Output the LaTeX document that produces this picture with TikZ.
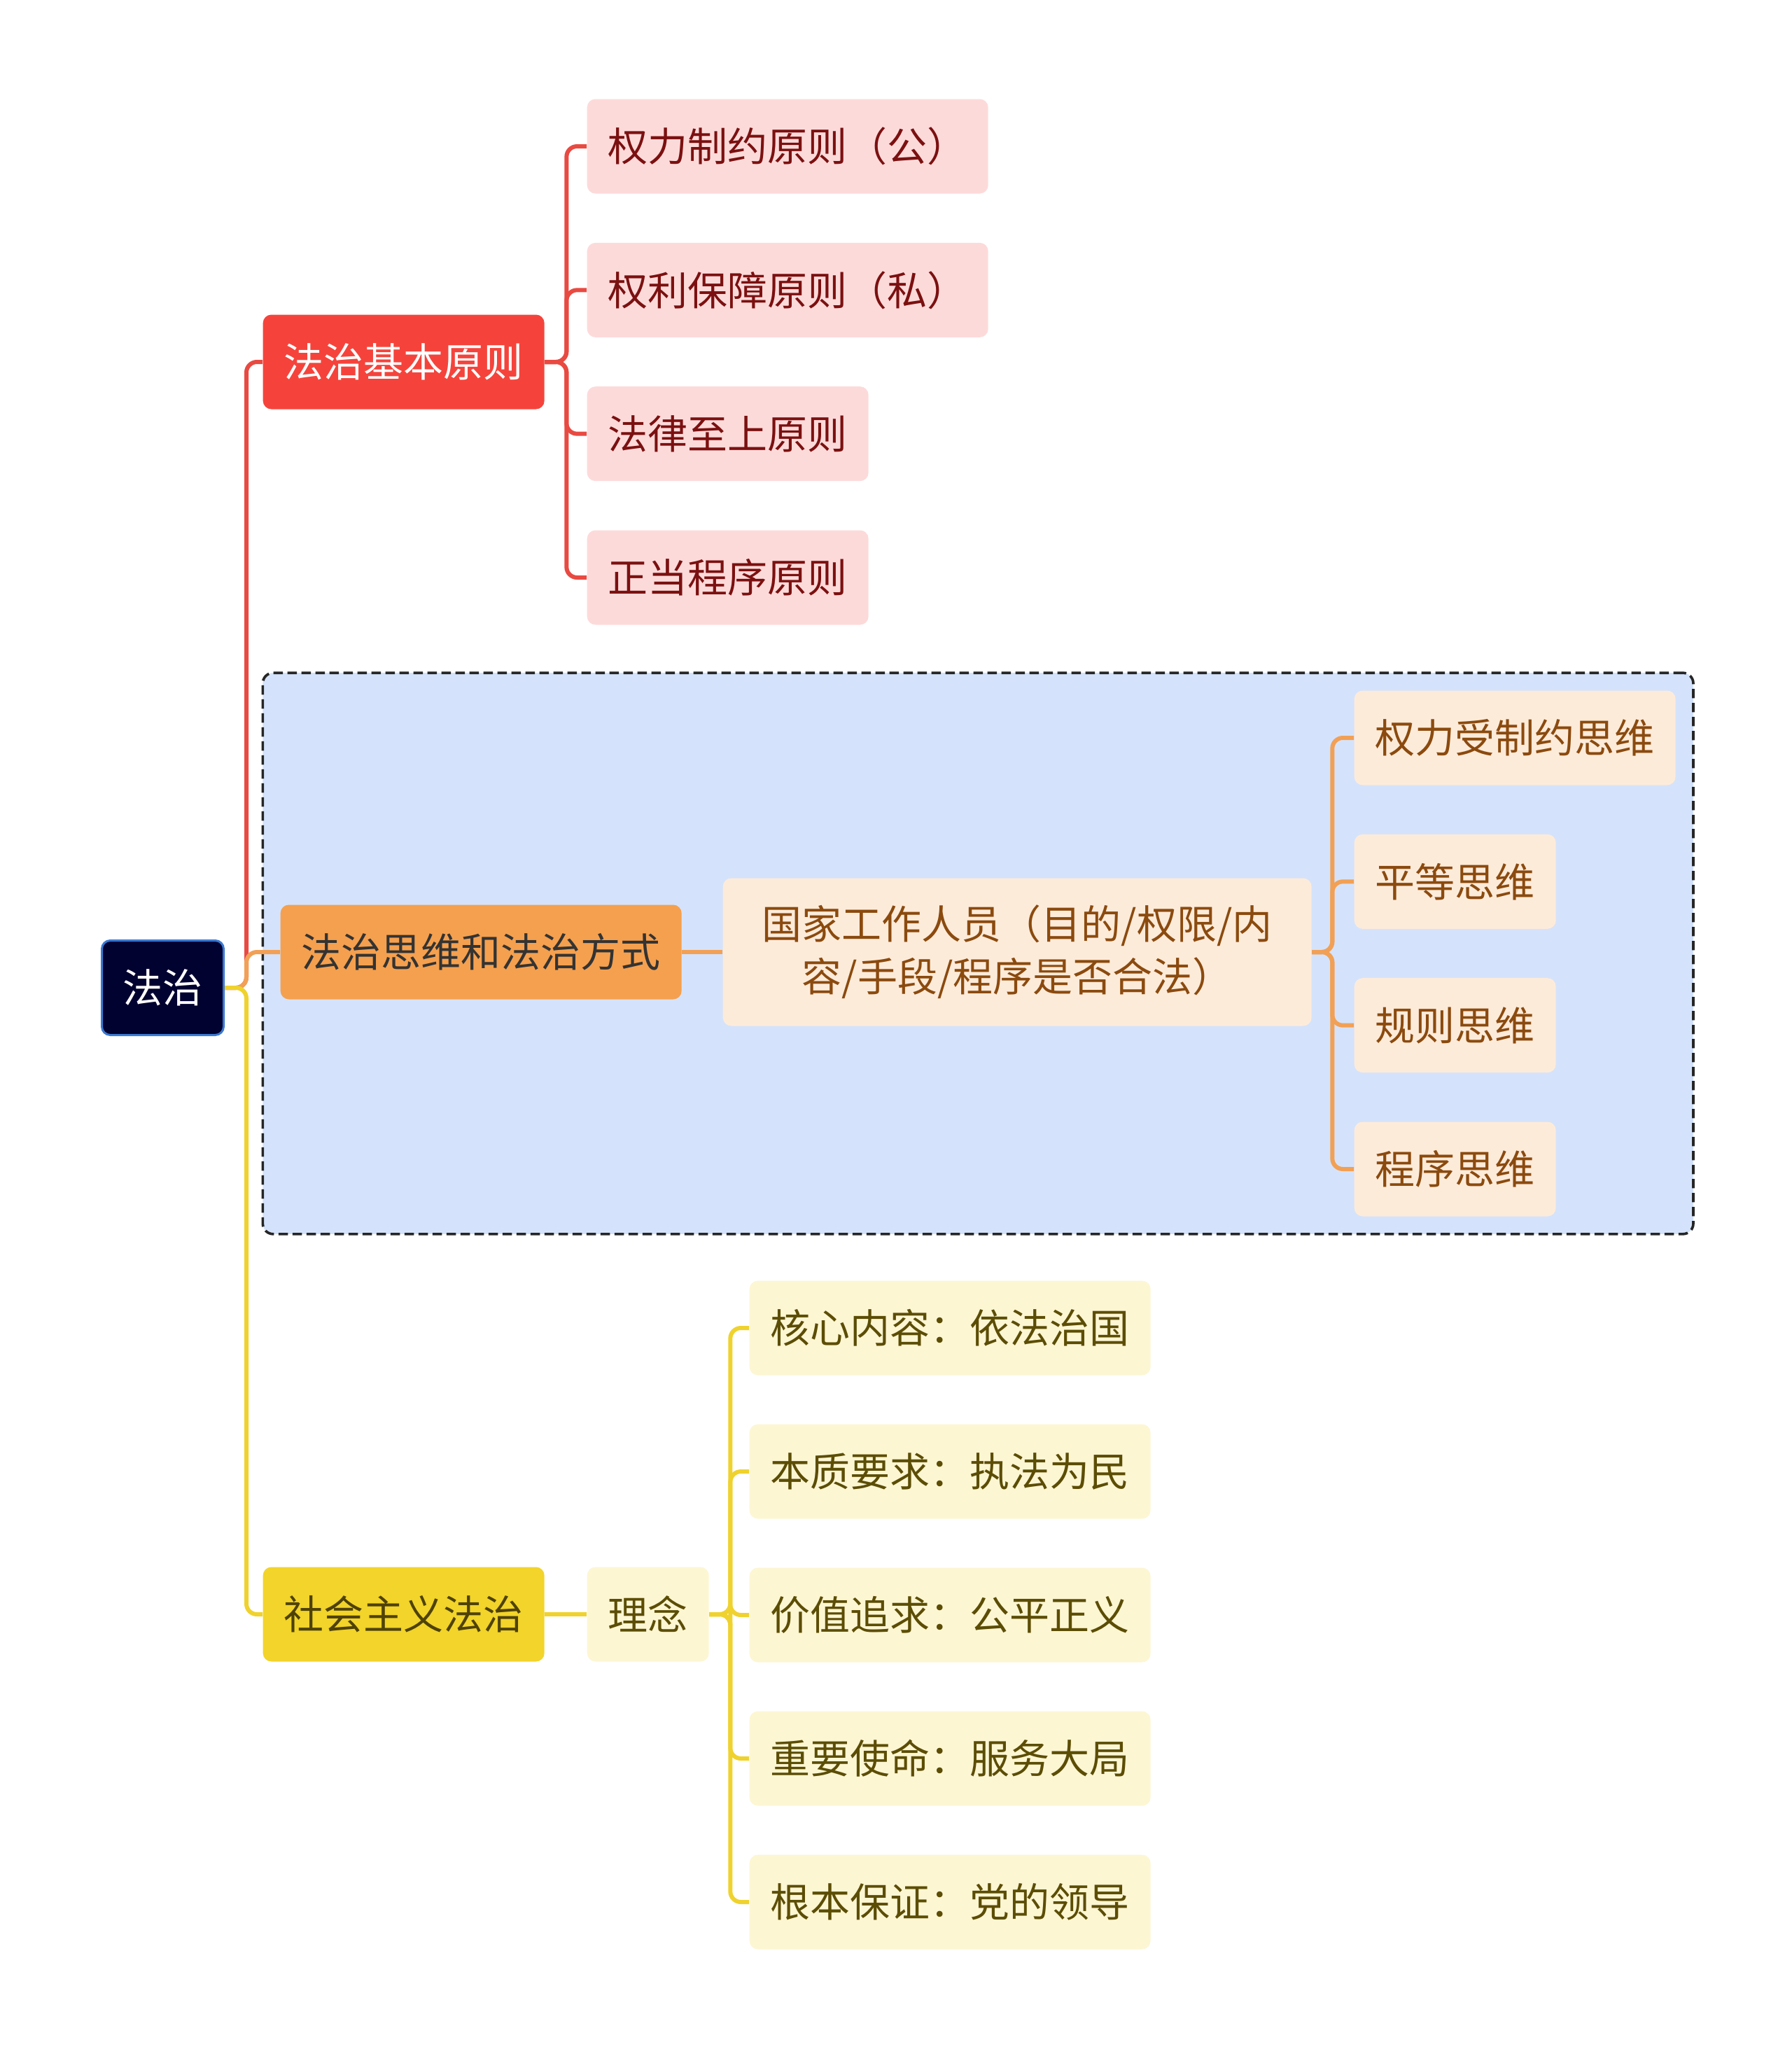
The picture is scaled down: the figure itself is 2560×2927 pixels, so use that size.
\documentclass[tikz,border=0pt]{standalone}
\usepackage{fontspec}
\setmainfont{Noto Sans CJK SC}
\usepackage{xcolor}
\usetikzlibrary{backgrounds, fit}

\definecolor{cRootFill}{HTML}{020230}
\definecolor{cRootLine}{HTML}{3A78D0}
\definecolor{cRed}{HTML}{F5433B}
\definecolor{cRedLine}{HTML}{E84A42}
\definecolor{cRedKid}{HTML}{FDDADA}
\definecolor{cRedText}{HTML}{7B1010}
\definecolor{cOrange}{HTML}{F5A04E}
\definecolor{cOrangeLine}{HTML}{F2A055}
\definecolor{cOrangeKid}{HTML}{FDEBDA}
\definecolor{cOrangeText}{HTML}{8B4A0E}
\definecolor{cYellow}{HTML}{F2D42A}
\definecolor{cYellowLine}{HTML}{EFD22E}
\definecolor{cYellowKid}{HTML}{FDF6D3}
\definecolor{cYellowText}{HTML}{5C4D05}
\definecolor{cGroup}{HTML}{D4E3FB}

\tikzset{
  box/.style={rounded corners=3.6pt, inner xsep=9pt, inner ysep=0pt,
    minimum height=40.5pt, anchor=west,
    font=\fontsize{17.1}{22.5}\selectfont},
  rootbox/.style={box, fill=cRootFill, draw=cRootLine, line width=0.9pt, text=white},
  redmain/.style={box, fill=cRed, text=white},
  redkid/.style={box, fill=cRedKid, text=cRedText},
  orangemain/.style={box, fill=cOrange, text=black!80},
  orangekid/.style={box, fill=cOrangeKid, text=cOrangeText},
  yellowmain/.style={box, fill=cYellow, text=cYellowText!85!black},
  yellowkid/.style={box, fill=cYellowKid, text=cYellowText},
  redlink/.style={draw=cRedLine, line width=1.8pt, rounded corners=4.5pt},
  orangelink/.style={draw=cOrangeLine, line width=1.8pt, rounded corners=4.5pt},
  yellowlink/.style={draw=cYellowLine, line width=1.8pt, rounded corners=4.5pt},
  groupbox/.style={draw=black!85, fill=cGroup, line width=1.1pt,
    dash pattern=on 4pt off 2pt, rounded corners=4.5pt, inner sep=7.4pt}
}

\begin{document}
\begin{tikzpicture}[x=0.3pt, y=-0.3pt]
    \useasboundingbox (0,0) rectangle (2560,2927);

    % 中心
    \node[rootbox] (root) at (144,1411) {法治};

    % 法治基本原则
    \node[redmain] (principle) at (375,517) {法治基本原则};
    \foreach \t [count=\i] in {权力制约原则（公）, 权利保障原则（私）, 法律至上原则, 正当程序原则}
        \node[redkid] (rk\i) at (838,{209+205.33*(\i-1)}) {\t};

    % 法治思维和法治方式
    \node[orangemain] (thinking) at (400,1360) {法治思维和法治方式};
    \node[orangekid, align=center, minimum width=252.3pt, minimum height=63.3pt]
        (officials) at (1032,1360) {国家工作人员（目的/权限/内\\容/手段/程序是否合法）};
    \foreach \t [count=\i] in {权力受制约思维, 平等思维, 规则思维, 程序思维}
        \node[orangekid] (ok\i) at (1934,{1054+205.33*(\i-1)}) {\t};

    % 社会主义法治
    \node[yellowmain] (socialist) at (375,2306) {社会主义法治};
    \node[yellowkid] (idea) at (838,2306) {理念};
    \foreach \t [count=\i] in {核心内容：依法治国, 本质要求：执法为民, 价值追求：公平正义, 重要使命：服务大局, 根本保证：党的领导}
        \node[yellowkid] (yk\i) at (1070,{1897+205*(\i-1)}) {\t};

    % 虚线框
    \begin{scope}[on background layer]
        \node[groupbox, fit=(thinking)(officials)(ok1)(ok4)] (group) {};
    \end{scope}

    % 连线
    \draw[redlink] (root.east) -- ++(31,0) |- (principle.west);
    \foreach \i in {1,...,4}
        \draw[redlink] (principle.east) -- ++(31,0) |- (rk\i.west);

    \draw[orangelink] (root.east) -- ++(31,0) |- (thinking.west);
    \draw[orangelink] (thinking.east) -- (officials.west);
    \foreach \i in {1,...,4}
        \draw[orangelink] (officials.east) -- ++(29,0) |- (ok\i.west);

    \draw[yellowlink] (root.east) -- ++(31,0) |- (socialist.west);
    \draw[yellowlink] (socialist.east) -- (idea.west);
    \foreach \i in {1,...,5}
        \draw[yellowlink] (idea.east) -- ++(30,0) |- (yk\i.west);
\end{tikzpicture}
\end{document}
